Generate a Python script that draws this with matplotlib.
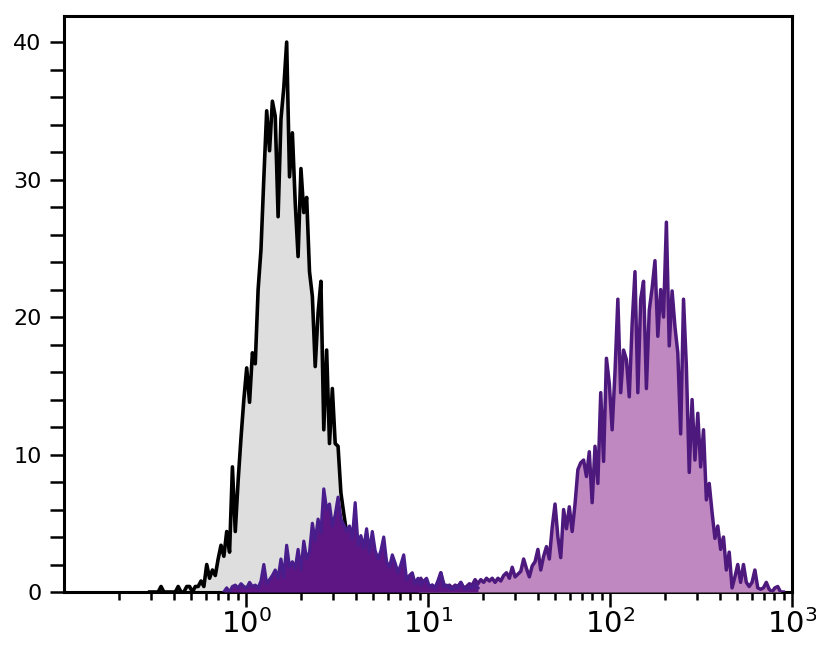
import matplotlib
matplotlib.use('Agg')
import matplotlib.pyplot as plt
import matplotlib.ticker as mticker
import numpy as np

# 256 log-spaced channels from 10^-1 to 10^3
channels = np.logspace(-1, 3, 256)

# isotype control (gray), counts starting at channel 30
iso_start = 30
iso_counts = [
    0, 0, 0, 0, 0.4, 0, 0, 0, 0, 0,
    0.4, 0, 0, 0.4, 0.4, 0, 0.4, 0.4, 0.8, 0.4,
    2.0, 1.0, 1.6, 1.2, 2.4, 3.4, 2.6, 4.4, 2.9, 9.1,
    4.4, 8.1, 11.2, 14.0, 16.3, 13.8, 17.4, 16.6, 22.0, 24.9,
    30.1, 35.0, 32.1, 35.7, 34.6, 27.3, 34.4, 36.7, 40.0, 30.2,
    33.4, 28.3, 24.4, 30.8, 27.6, 28.7, 23.3, 21.5, 16.4, 20.3,
    22.6, 11.8, 17.6, 10.8, 14.8, 10.8, 10.6, 7.2, 5.7, 4.3,
    3.0, 2.2, 1.5, 1.0, 0.6, 0.4, 0.4, 0.2, 0, 0.4,
    0,
]

# dim population (dark purple), counts starting at channel 56
dim_start = 56
dim_counts = [
    0, 0.3, 0, 0.4, 0.5, 0.3, 0.6, 0.4, 0.3, 0.7,
    0.4, 0.5, 0.3, 0.8, 2.0, 0.6, 0.9, 1.2, 1.6, 1.0,
    2.4, 1.1, 3.4, 1.8, 2.2, 1.7, 3.1, 1.6, 3.7, 2.4,
    2.9, 5.0, 3.7, 5.3, 4.3, 7.5, 6.0, 6.4, 4.8, 5.6,
    6.9, 5.3, 4.9, 4.4, 4.8, 3.9, 6.5, 3.4, 4.1, 3.2,
    4.6, 2.9, 4.4, 3.0, 2.4, 3.0, 4.0, 2.2, 1.8, 2.7,
    2.1, 1.4, 2.0, 2.7, 0.9, 1.2, 1.4, 0.6, 1.0, 0.5,
    0.8, 1.0, 0.4, 0.5, 0.3, 0.7, 1.4, 0.4, 0.5, 0.3,
    0.2, 0.4, 0.3, 0.7, 0.3, 0.2, 0.4, 0.3, 0.6, 0.3,
]

# stained population (light purple), counts starting at channel 124
pos_start = 124
pos_counts = [
    0.6, 1.0, 0.5, 0.7, 0.4, 0.5, 0.3, 0.8, 1.4, 0.6,
    0.3, 0.5, 0.3, 0.5, 0.4, 0.7, 0.3, 0.4, 0.6, 0.5,
    0.9, 0.6, 0.9, 0.7, 1.0, 0.8, 1.0, 0.7, 1.0, 0.8,
    1.2, 1.4, 1.0, 1.8, 1.1, 1.3, 1.5, 2.4, 1.7, 1.1,
    1.9, 2.2, 3.1, 1.6, 2.6, 3.3, 2.4, 4.7, 6.4, 4.0,
    2.5, 6.0, 4.6, 6.2, 4.4, 6.4, 8.9, 9.4, 9.6, 8.4,
    10.2, 6.5, 10.6, 7.9, 14.5, 9.5, 17.0, 15.2, 11.8, 16.0,
    21.3, 14.5, 17.6, 16.9, 14.2, 19.5, 23.3, 14.5, 21.3, 22.6,
    14.8, 20.5, 22.1, 24.1, 18.6, 22.0, 20.0, 26.9, 17.9, 21.9,
    19.3, 17.4, 11.5, 21.3, 16.4, 8.7, 14.0, 9.6, 13.0, 9.1,
    11.8, 6.7, 7.9, 5.8, 3.9, 4.8, 3.1, 4.0, 1.6, 2.9,
    0.3, 1.1, 2.0, 0.7, 2.0, 0.7, 0.4, 0.7, 1.6, 0.3,
    0.2, 0.3, 0.7, 0.2, 0, 0.3, 0.4, 0, 0,
]

plt.rcParams['mathtext.fontset'] = 'custom'
plt.rcParams['mathtext.rm'] = 'Liberation Sans Narrow'
plt.rcParams['mathtext.it'] = 'Liberation Sans Narrow'
plt.rcParams['mathtext.default'] = 'regular'

fig = plt.figure(figsize=(8.16, 6.58), dpi=100)
ax = fig.add_axes([0.0784, 0.1003, 0.8922, 0.8754])

x_iso = channels[iso_start:iso_start + len(iso_counts)]
x_dim = channels[dim_start:dim_start + len(dim_counts)]
x_pos = channels[pos_start:pos_start + len(pos_counts)]

ax.fill_between(x_iso, 0, iso_counts, color='#dedede', lw=0, zorder=1)
ax.plot(x_iso, iso_counts, color='black', lw=2.6, zorder=2)

ax.fill_between(x_pos, 0, pos_counts, color='#c088c0', lw=0, zorder=3)
ax.plot(x_pos, pos_counts, color='#4e197d', lw=2.5, zorder=4)

ax.fill_between(x_dim, 0, dim_counts, color='#5e1685', lw=0, zorder=5)
ax.plot(x_dim, dim_counts, color='#4a1d8c', lw=2.3, zorder=6)

ax.set_xscale('log')
ax.set_xlim(0.1, 1000)
ax.set_ylim(0, 41.9)

ax.xaxis.set_major_locator(mticker.FixedLocator([1, 10, 100, 1000]))
ax.xaxis.set_major_formatter(mticker.FuncFormatter(lambda v, p: r'$10^{%d}$' % round(np.log10(v))))
ax.xaxis.set_minor_locator(mticker.LogLocator(base=10, subs=np.arange(2, 10), numticks=20))
ax.xaxis.set_minor_formatter(mticker.NullFormatter())

ax.yaxis.set_major_locator(mticker.MultipleLocator(10))
ax.yaxis.set_minor_locator(mticker.MultipleLocator(2))

for s in ax.spines.values():
    s.set_linewidth(2.2)

ax.tick_params(axis='x', which='major', direction='out', length=11, width=1.8, pad=1)
ax.tick_params(axis='x', which='minor', direction='out', length=6, width=1.8)
ax.tick_params(axis='y', which='both', direction='out', length=10, width=1.8)
ax.tick_params(axis='y', which='major', pad=6)

for lab in ax.get_xticklabels():
    lab.set_fontsize(21)
for lab in ax.get_yticklabels():
    lab.set_fontsize(16)

plt.savefig('out.png', dpi=100)
